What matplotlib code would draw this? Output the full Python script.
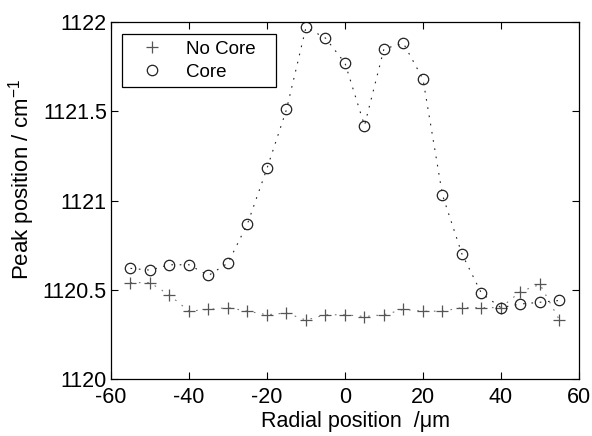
import matplotlib

matplotlib.use("Agg")
import matplotlib.pyplot as plt

plt.rcParams["font.family"] = ["Liberation Sans", "DejaVu Sans"]
plt.rcParams["mathtext.fontset"] = "custom"
plt.rcParams["mathtext.rm"] = "Liberation Sans"
plt.rcParams["axes.unicode_minus"] = False

# radial positions (um)
RADIAL = [-55, -50, -45, -40, -35, -30, -25, -20, -15, -10, -5, 0,
          5, 10, 15, 20, 25, 30, 35, 40, 45, 50, 55]

NO_CORE = [1120.54, 1120.54, 1120.47, 1120.38, 1120.39, 1120.40, 1120.38,
           1120.36, 1120.37, 1120.33, 1120.36, 1120.36, 1120.35, 1120.36,
           1120.39, 1120.38, 1120.38, 1120.40, 1120.40, 1120.40, 1120.49,
           1120.53, 1120.33]

CORE = [1120.62, 1120.61, 1120.64, 1120.64, 1120.58, 1120.65, 1120.87,
        1121.18, 1121.51, 1121.97, 1121.91, 1121.77, 1121.42, 1121.85,
        1121.88, 1121.68, 1121.03, 1120.70, 1120.48, 1120.40, 1120.42,
        1120.43, 1120.44]

X_TICKS = [-60, -40, -20, 0, 20, 40, 60]
Y_TICKS = [1120, 1120.5, 1121, 1121.5, 1122]
Y_TICK_LABELS = ["1120", "1120.5", "1121", "1121.5", "1122"]


def main() -> None:
    fig = plt.figure(figsize=(5.92, 4.36), dpi=100)
    ax = fig.add_axes([0.1875, 0.1307, 0.7905, 0.8188])

    # sparse dotted connecting lines
    ax.plot(RADIAL, NO_CORE, color="#777777", linewidth=0.8, dashes=(1.5, 6))
    ax.plot(RADIAL, CORE, color="#222222", linewidth=0.8, dashes=(1.5, 6))

    # markers only (legend shows markers without lines)
    ax.plot(RADIAL, NO_CORE, linestyle="none", marker="+", markersize=8.5,
            markeredgewidth=0.9, markeredgecolor="#555555", label="No Core")
    ax.plot(RADIAL, CORE, linestyle="none", marker="o", markersize=7.5,
            markerfacecolor="none", markeredgewidth=0.9,
            markeredgecolor="#222222", label="Core")

    ax.set_xlim(-60, 60)
    ax.set_ylim(1120, 1122)
    ax.set_xticks(X_TICKS)
    ax.set_xticklabels([str(t) for t in X_TICKS])
    ax.set_yticks(Y_TICKS)
    ax.set_yticklabels(Y_TICK_LABELS)
    ax.tick_params(direction="in", top=True, right=True, length=5,
                   width=0.8, labelsize=15.5)
    ax.tick_params(axis="x", pad=6)
    ax.tick_params(axis="y", pad=3)
    for spine in ax.spines.values():
        spine.set_linewidth(0.9)

    ax.set_xlabel("Radial position  /\u03bcm", fontsize=15.5)
    ax.set_ylabel("Peak position / cm$^{-1}$", fontsize=16)
    ax.xaxis.set_label_coords(0.5235, -0.09)
    ax.yaxis.set_label_coords(-0.158, 0.56)

    leg = ax.legend(loc="upper left", fontsize=13.5, fancybox=False,
                    edgecolor="black", framealpha=1, borderpad=0.35,
                    handlelength=2.5, handletextpad=0.55, labelspacing=0.3,
                    borderaxespad=0, mode="expand",
                    bbox_to_anchor=(0.0235, 0.55, 0.329, 0.416))
    leg.get_frame().set_linewidth(0.9)

    fig.savefig("out.png", dpi=100)
    plt.close(fig)


if __name__ == "__main__":
    main()
